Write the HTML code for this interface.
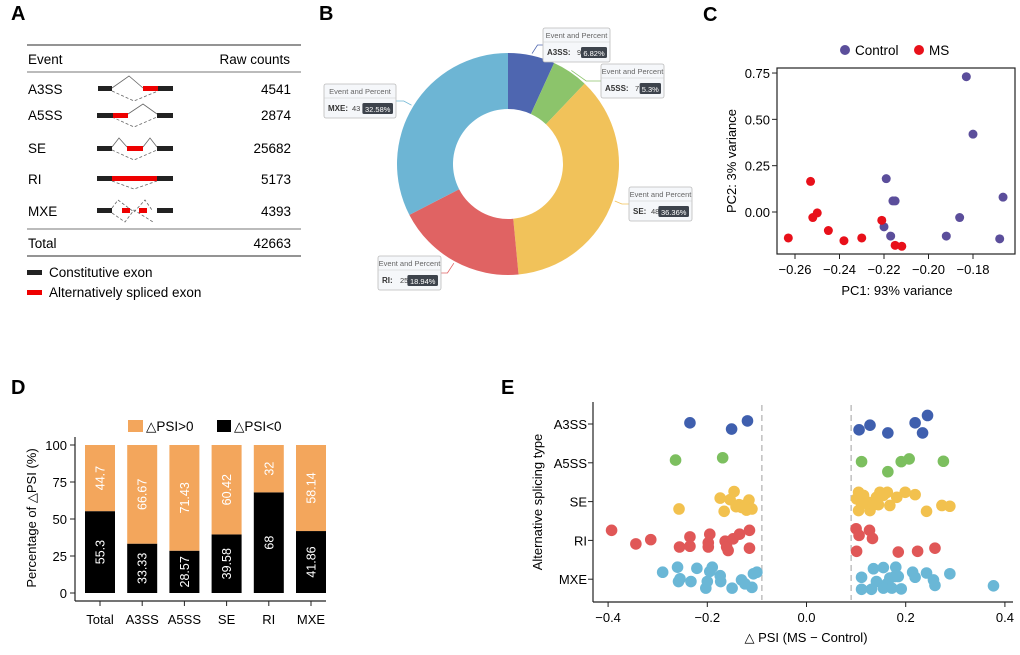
<!DOCTYPE html>
<html><head><meta charset="utf-8"><style>
html,body{margin:0;padding:0;background:#fff;}
svg{display:block;font-family:"Liberation Sans",Arial,sans-serif;}
</style></head><body>
<svg id="fig" width="1020" height="655" viewBox="0 0 1020 655" xmlns="http://www.w3.org/2000/svg">
<g>
<text x="11" y="20" font-size="20" font-weight="bold">A</text>
<line x1="27" y1="45" x2="301" y2="45" stroke="#555" stroke-width="1.2"/>
<text x="28" y="64" font-size="13.5">Event</text>
<text x="290" y="64" font-size="13.5" text-anchor="end">Raw counts</text>
<line x1="27" y1="72" x2="301" y2="72" stroke="#777" stroke-width="1"/>
<g font-size="13.5">
<text x="28" y="94">A3SS</text><text x="291" y="94" text-anchor="end">4541</text>
<text x="28" y="120">A5SS</text><text x="291" y="120" text-anchor="end">2874</text>
<text x="28" y="153">SE</text><text x="291" y="153" text-anchor="end">25682</text>
<text x="28" y="184">RI</text><text x="291" y="184" text-anchor="end">5173</text>
<text x="28" y="216">MXE</text><text x="291" y="216" text-anchor="end">4393</text>
</g>
<line x1="27" y1="229" x2="301" y2="229" stroke="#777" stroke-width="1"/>
<text x="28" y="248" font-size="13.5">Total</text>
<text x="291" y="248" font-size="13.5" text-anchor="end">42663</text>
<line x1="27" y1="256" x2="301" y2="256" stroke="#555" stroke-width="1.2"/>
<g stroke="#666" stroke-width="0.8" fill="none">
<polyline points="112,88 129,76 143,88"/><polyline points="112,91 134,101 158,91" stroke-dasharray="3,2"/>
<polyline points="128,114 143,104 157,114"/><polyline points="112,117 134,127 157,117" stroke-dasharray="3,2"/>
<polyline points="112,147 119,138 127,147"/><polyline points="143,147 150,138 157,147"/><polyline points="112,150 134,160 157,150" stroke-dasharray="3,2"/>
<polyline points="112,181 134,189 157,181" stroke-dasharray="3,2"/>
<polyline points="112,208 118,200 134,212 145,200 152,210" stroke-dasharray="3,2"/><polyline points="112,213 125,222 134,210 153,222" stroke-dasharray="3,2"/>
</g>
<g>
<rect x="98" y="86" width="14" height="5" fill="#222"/><rect x="143" y="86" width="15" height="5" fill="#e00"/><rect x="158" y="86" width="15" height="5" fill="#222"/>
<rect x="97" y="113" width="16" height="5" fill="#222"/><rect x="113" y="113" width="15" height="5" fill="#e00"/><rect x="157" y="113" width="16" height="5" fill="#222"/>
<rect x="97" y="146" width="15" height="5" fill="#222"/><rect x="127" y="146" width="16" height="5" fill="#e00"/><rect x="157" y="146" width="16" height="5" fill="#222"/>
<rect x="97" y="176" width="15" height="5" fill="#222"/><rect x="112" y="176" width="45" height="5" fill="#e00"/><rect x="157" y="176" width="16" height="5" fill="#222"/>
<rect x="97" y="208" width="15" height="5" fill="#222"/><rect x="122" y="208" width="8" height="5" fill="#e00"/><rect x="139" y="208" width="8" height="5" fill="#e00"/><rect x="157" y="208" width="16" height="5" fill="#222"/>
</g>
<g>
<rect x="27" y="270" width="15" height="5" fill="#222"/><text x="49" y="277" font-size="13.5">Constitutive exon</text>
<rect x="27" y="290" width="15" height="5" fill="#e00"/><text x="49" y="297" font-size="13.5">Alternatively spliced exon</text>
</g>
</g>

<text x="319" y="20" font-size="20" font-weight="bold">B</text>
<g id="donut"></g>

<text x="703" y="21" font-size="20" font-weight="bold">C</text>
<g id="pca"></g>

<text x="11" y="394" font-size="20" font-weight="bold">D</text>
<g id="bars"></g>

<text x="501" y="394" font-size="20" font-weight="bold">E</text>
<g id="strip"></g>
</svg>
<script>
const donutCats = ["A3SS","A5SS","SE","RI","MXE"];
const donutCounts = [9,7,48,25,43];
const donutPcts = ["6.82%","5.3%","36.36%","18.94%","32.58%"];
const donutColors = ["#4e66b0","#8cc46b","#f1c25a","#e06363","#6db5d4"];
const ctrlX = [-0.183,-0.180,-0.219,-0.216,-0.215,-0.1665,-0.186,-0.192,-0.168,-0.220,-0.217];
const ctrlY = [0.73,0.42,0.18,0.06,0.06,0.08,-0.03,-0.13,-0.145,-0.08,-0.13];
const msX = [-0.253,-0.252,-0.250,-0.245,-0.263,-0.238,-0.230,-0.221,-0.215,-0.212];
const msY = [0.165,-0.03,-0.005,-0.10,-0.14,-0.155,-0.14,-0.045,-0.18,-0.185];
const pcaXTicks = [-0.26,-0.24,-0.22,-0.20,-0.18];
const pcaYTicks = [0,0.25,0.5,0.75];
const barCats = ["Total","A3SS","A5SS","SE","RI","MXE"];
const negPct = [55.3,33.33,28.57,39.58,68,41.86];
const posPct = [44.7,66.67,71.43,60.42,32,58.14];
const barTicks = [0,25,50,75,100];
const stripCats = ["A3SS","A5SS","SE","RI","MXE"];
const stripColors = ["#3f5fae","#7cbf5f","#f2c14e","#e05757","#6ab7d6"];
const a3ssX = [-0.235,-0.151,-0.119,0.106,0.128,0.164,0.219,0.234,0.244];
const a3ssJ = [-0.03,0.13,-0.08,0.15,0.03,0.23,-0.03,0.23,-0.22];
const a5ssX = [-0.264,-0.169,0.111,0.164,0.191,0.207,0.276];
const a5ssJ = [-0.07,-0.13,-0.03,0.23,-0.03,-0.10,-0.04];
const seX = [-0.257,-0.174,-0.166,-0.154,-0.146,-0.136,-0.126,-0.116,-0.110,-0.121,-0.131,-0.142,0.105,0.101,0.105,0.115,0.125,0.128,0.135,0.141,0.148,0.155,0.163,0.168,0.182,0.199,0.219,0.242,0.273,0.289,0.145,0.111];
const seJ = [0.19,-0.09,0.25,-0.05,-0.26,0.08,0.10,-0.04,0.19,0.22,0.15,0.13,-0.24,-0.07,0.23,-0.16,0.02,0.23,0.08,-0.11,-0.24,-0.16,-0.24,0.10,-0.11,-0.24,-0.18,0.25,0.10,0.12,0.08,0.06];
const riX = [-0.393,-0.344,-0.314,-0.256,-0.235,-0.235,-0.198,-0.195,-0.198,-0.164,-0.161,-0.148,-0.135,-0.115,-0.115,-0.158,0.100,0.106,0.127,0.133,0.101,0.185,0.224,0.259];
const riJ = [-0.26,0.09,-0.02,0.17,-0.09,0.15,0.06,-0.16,0.17,0.02,0.17,-0.04,-0.16,-0.26,0.20,0.26,-0.30,-0.13,-0.26,-0.05,0.28,0.30,0.28,0.20];
const mxeX = [-0.290,-0.260,-0.255,-0.258,-0.233,-0.221,-0.203,-0.200,-0.195,-0.190,-0.174,-0.173,-0.150,-0.131,-0.124,-0.110,-0.107,-0.100,0.111,0.111,0.131,0.135,0.141,0.155,0.155,0.162,0.168,0.172,0.178,0.180,0.185,0.191,0.214,0.219,0.242,0.256,0.259,0.289,0.377];
const mxeJ = [-0.18,-0.31,-0.01,0.06,0.06,-0.28,0.23,0.06,-0.20,-0.31,-0.09,0.06,0.23,0.02,0.12,0.21,-0.14,-0.18,-0.05,0.26,0.26,-0.27,0.06,-0.30,0.23,0.12,-0.03,0.23,-0.07,-0.31,-0.07,0.25,-0.18,-0.05,-0.16,0.02,0.16,-0.14,0.17];
const stripXTicks = [-0.4,-0.2,0.0,0.2,0.4];
const cutoff = 0.09;

const NS="http://www.w3.org/2000/svg";
function mk(parent,tag,attrs,text){const e=document.createElementNS(NS,tag);for(const k in attrs)e.setAttribute(k,attrs[k]);if(text!==undefined)e.textContent=text;parent.appendChild(e);return e;}

(function(){
 const g=document.getElementById('donut');
 const cx=508,cy=164,R=111,r=55;
 const total=donutCounts.reduce((a,b)=>a+b,0);
 let a0=0;
 const boxes={A3SS:[543,28],A5SS:[601,64],SE:[629,187],RI:[378,256],MXE:[324,84]};
 donutCats.forEach((c,i)=>{
  const a1=a0+donutCounts[i]/total*2*Math.PI;
  const p=(a,rad)=>[cx+rad*Math.sin(a),cy-rad*Math.cos(a)];
  const [x0,y0]=p(a0,R),[x1,y1]=p(a1,R),[x2,y2]=p(a1,r),[x3,y3]=p(a0,r);
  const large=(a1-a0)>Math.PI?1:0;
  const s=mk(g,'path',{d:`M${x0},${y0}A${R},${R} 0 ${large} 1 ${x1},${y1}L${x2},${y2}A${r},${r} 0 ${large} 0 ${x3},${y3}Z`,fill:donutColors[i]});
  
  
  const am=(a0+a1)/2; const [lx,ly]=p(am,R+2);
  const [bx,by]=boxes[c]; const bw=c==='SE'||c==='MXE'?(c==='MXE'?72:63):(c==='A3SS'?67:63), bh=34;
  const ex=bx+(bx>cx?0:bw), ey=by+bh/2;
  mk(g,'polyline',{points:`${lx},${ly} ${(lx+ex)/2},${ey} ${ex},${ey}`,fill:'none',stroke:donutColors[i],'stroke-width':0.8});
  const bg=mk(g,'g',{});
  
  
  mk(bg,'rect',{x:bx,y:by,width:bw,height:bh,rx:2,fill:'#f5f7fa',stroke:'#bbb','stroke-width':0.8});
  mk(bg,'text',{x:bx+bw/2,y:by+10,'font-size':7.5,'text-anchor':'middle',fill:'#666'},'Event and Percent');
  mk(bg,'line',{x1:bx,y1:by+14,x2:bx+bw,y2:by+14,stroke:'#ccc','stroke-width':0.6});
  mk(bg,'text',{x:bx+4,y:by+27,'font-size':8,'font-weight':'bold',fill:'#333'},c+':');
  const tx=bx+4+c.length*6+6;
  mk(bg,'text',{x:tx,y:by+27,'font-size':7.5,fill:'#444'},donutCounts[i]);
  const pw=donutPcts[i].length*4.6+3, px=bx+bw-pw-3;
  mk(bg,'rect',{x:px,y:by+19,width:pw,height:11,rx:1.5,fill:'#3d434c'});
  mk(bg,'text',{x:px+pw/2,y:by+28,'font-size':7.5,'text-anchor':'middle',fill:'#fff'},donutPcts[i]);
  a0=a1;
 });
})();

(function(){
 const g=document.getElementById('pca');
 const X0=777,X1=1015,Y0=68,Y1=254;
 const sx=v=>795+(v+0.26)*2225, sy=v=>212-v*185.3;
 mk(g,'rect',{x:X0,y:Y0,width:X1-X0,height:Y1-Y0,fill:'none',stroke:'#222','stroke-width':1.2});
 pcaXTicks.forEach(t=>{mk(g,'line',{x1:sx(t),y1:Y1,x2:sx(t),y2:Y1+5,stroke:'#222'});mk(g,'text',{x:sx(t),y:274,'font-size':13,'text-anchor':'middle'},(t<0?'\u2212':'')+Math.abs(t).toFixed(2));});
 pcaYTicks.forEach(t=>{mk(g,'line',{x1:X0-5,y1:sy(t),x2:X0,y2:sy(t),stroke:'#222'});mk(g,'text',{x:X0-7,y:sy(t)+5,'font-size':13,'text-anchor':'end'},t.toFixed(2));});
 const xt=mk(g,'text',{x:897,y:295,'font-size':13,'text-anchor':'middle'},'PC1: 93% variance');
 
 const yt=mk(g,'text',{x:0,y:0,'font-size':13,'text-anchor':'middle',transform:'translate(736,161) rotate(-90)'},'PC2: 3% variance');
 
 ctrlX.forEach((v,i)=>{const c=mk(g,'circle',{cx:sx(v),cy:sy(ctrlY[i]),r:4.5,fill:'#5b4e9b'});});
 msX.forEach((v,i)=>{const c=mk(g,'circle',{cx:sx(v),cy:sy(msY[i]),r:4.5,fill:'#e8101a'});});
 const lg=mk(g,'g',{});
 mk(lg,'circle',{cx:845,cy:50,r:5,fill:'#5b4e9b'});mk(lg,'text',{x:855,y:55,'font-size':13.5},'Control');
 mk(lg,'circle',{cx:919,cy:50,r:5,fill:'#e8101a'});mk(lg,'text',{x:929,y:55,'font-size':13.5},'MS');
})();

(function(){
 const g=document.getElementById('bars');
 const sy=v=>593-v*1.48; const bx=i=>100+i*42.2; const bw=30;
 mk(g,'line',{x1:75,y1:437,x2:75,y2:601,stroke:'#222','stroke-width':1.2});
 mk(g,'line',{x1:75,y1:601,x2:326,y2:601,stroke:'#222','stroke-width':1.2});
 barTicks.forEach(t=>{mk(g,'line',{x1:70,y1:sy(t),x2:75,y2:sy(t),stroke:'#222'});mk(g,'text',{x:67,y:sy(t)+5,'font-size':13,'text-anchor':'end'},t);});
 barCats.forEach((c,i)=>{
  const x=bx(i);
  const n=mk(g,'rect',{x:x-bw/2,y:sy(negPct[i]),width:bw,height:sy(0)-sy(negPct[i]),fill:'#000'});
  
  const p=mk(g,'rect',{x:x-bw/2,y:sy(100),width:bw,height:sy(negPct[i])-sy(100),fill:'#f3a65c'});
  
  const cy1=(sy(0)+sy(negPct[i]))/2, cy2=(sy(negPct[i])+sy(100))/2;
  mk(g,'text',{x:0,y:0,'font-size':12.5,fill:'#fff','text-anchor':'middle',transform:`translate(${x+4.5},${cy1}) rotate(-90)`},negPct[i]);
  mk(g,'text',{x:0,y:0,'font-size':12.5,fill:'#fff','text-anchor':'middle',transform:`translate(${x+4.5},${cy2}) rotate(-90)`},posPct[i]);
  mk(g,'line',{x1:x,y1:601,x2:x,y2:606,stroke:'#222'});
  mk(g,'text',{x:x,y:624,'font-size':13,'text-anchor':'middle'},c);
 });
 const yt=mk(g,'text',{x:0,y:0,'font-size':13,'text-anchor':'middle',transform:'translate(36,518) rotate(-90)'},'Percentage of \u25B3PSI (%)');
 
 const lg=mk(g,'g',{});
 mk(lg,'rect',{x:128,y:420,width:15,height:12,fill:'#f3a65c'});mk(lg,'text',{x:146,y:431,'font-size':13.5},'\u25B3PSI>0');
 mk(lg,'rect',{x:217,y:420,width:14,height:12,fill:'#000'});mk(lg,'text',{x:234,y:431,'font-size':13.5},'\u25B3PSI<0');
})();

(function(){
 const g=document.getElementById('strip');
 const sx=v=>806.5+v*496; const cy=i=>424+i*38.8; const J=38.8;
 mk(g,'line',{x1:593,y1:402,x2:593,y2:602,stroke:'#222','stroke-width':1.2});
 mk(g,'line',{x1:593,y1:602,x2:1013,y2:602,stroke:'#222','stroke-width':1.2});
 [-cutoff,cutoff].forEach(c=>mk(g,'line',{x1:sx(c),y1:405,x2:sx(c),y2:600,stroke:'#bbb','stroke-width':1.4,'stroke-dasharray':'6,4'}));
 stripXTicks.forEach(t=>{mk(g,'line',{x1:sx(t),y1:602,x2:sx(t),y2:607,stroke:'#222'});mk(g,'text',{x:sx(t),y:622,'font-size':13,'text-anchor':'middle'},(t<0?'\u2212':'')+Math.abs(t).toFixed(1));});
 stripCats.forEach((c,i)=>{mk(g,'line',{x1:588,y1:cy(i),x2:593,y2:cy(i),stroke:'#222'});mk(g,'text',{x:587,y:cy(i)+5,'font-size':13,'text-anchor':'end'},c);});
 const sets=[[a3ssX,a3ssJ],[a5ssX,a5ssJ],[seX,seJ],[riX,riJ],[mxeX,mxeJ]];
 sets.forEach((s,i)=>{s[0].forEach((v,k)=>{const d=mk(g,'circle',{cx:sx(v),cy:cy(i)+s[1][k]*J,r:5.8,fill:stripColors[i]});});});
 const xt=mk(g,'text',{x:806,y:642,'font-size':13,'text-anchor':'middle'},'\u25B3 PSI (MS \u2212 Control)');
 
 const yt=mk(g,'text',{x:0,y:0,'font-size':13,'text-anchor':'middle',transform:'translate(542,502) rotate(-90)'},'Alternative splicing type');
 
})();
</script>
</body></html>
